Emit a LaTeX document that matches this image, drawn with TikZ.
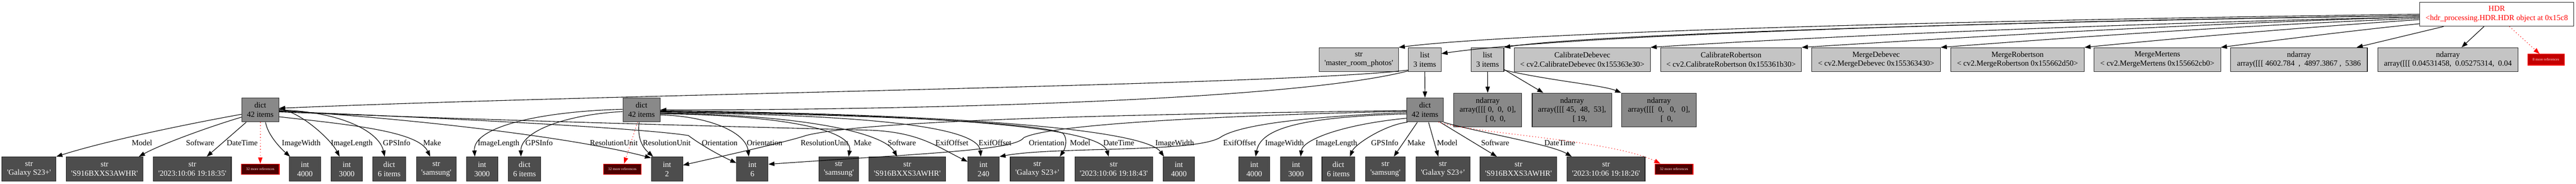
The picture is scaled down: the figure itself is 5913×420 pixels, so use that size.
\documentclass[tikz,border=0pt]{standalone}
\usepackage{fontspec}
\setmainfont{Liberation Serif}[Ligatures=TeXOff]
\usetikzlibrary{arrows.meta}
\definecolor{depthone}{RGB}{196,196,196}
\definecolor{depthtwo}{RGB}{137,137,137}
\definecolor{depththree}{RGB}{77,77,77}
\definecolor{refone}{RGB}{196,0,0}
\definecolor{refthree}{RGB}{77,0,0}
\tikzset{
  objbox/.style={draw=black!85, line width=0.65pt, inner sep=0pt, align=center,
    font=\fontsize{8.95}{10.5}\selectfont},
  rootbox/.style={objbox, fill=white, text=red, minimum height=27.5pt},
  onebox/.style={objbox, fill=depthone, minimum height=27.5pt},
  twobox/.style={objbox, fill=depthtwo, minimum height=27.5pt},
  threebox/.style={objbox, fill=depththree, text=white, minimum height=28pt},
  refbox/.style={draw=red, line width=0.65pt, inner sep=0pt, text=white!90!red,
    font=\fontsize{4.25}{5}\selectfont},
  link/.style={line width=0.65pt, -{Triangle[length=7pt,width=5pt]}},
  refedge/.style={red, line width=0.65pt, dash pattern=on 0.8pt off 2.6pt,
    -{Triangle[length=7pt,width=5pt,fill=red]}},
  lbl/.style={anchor=base, inner sep=0pt, font=\fontsize{8.95}{10.5}\selectfont}
}
\begin{document}
\begin{tikzpicture}[x=0.5pt,y=-0.5pt]
\useasboundingbox (0,0) rectangle (5913,420);
% root
\node[rootbox, minimum width=177pt] (hdr) at (5731,32.5) {HDR\\<hdr\_processing.HDR.HDR object at 0x15c8};
\node[refbox, fill=refone, minimum width=42pt, minimum height=12.5pt] (moreroot) at (5844,136.5) {8 more references};
% depth 1
\node[onebox, minimum width=91pt] (mrp) at (3119,136.5) {str\\'master\_room\_photos'};
\node[onebox, minimum width=37.5pt] (lstA) at (3270.5,136.5) {list\\3 items};
\node[onebox, minimum width=37.5pt] (lstB) at (3414.5,136.5) {list\\3 items};
\node[onebox, minimum width=156pt] (calD) at (3632,136.5) {CalibrateDebevec\\< cv2.CalibrateDebevec 0x155363e30>};
\node[onebox, minimum width=161.5pt] (calR) at (3973.5,136.5) {CalibrateRobertson\\< cv2.CalibrateRobertson 0x155361b30>};
\node[onebox, minimum width=147.5pt] (mrgD) at (4306.5,136.5) {MergeDebevec\\< cv2.MergeDebevec 0x155363430>};
\node[onebox, minimum width=153pt] (mrgR) at (4631,136.5) {MergeRobertson\\< cv2.MergeRobertson 0x155662d50>};
\node[onebox, minimum width=145pt] (mrgM) at (4952,136.5) {MergeMertens\\< cv2.MergeMertens 0x155662cb0>};
\node[onebox, minimum width=157pt] (arrA) at (5277,136.5) {ndarray\\array([[[ 4602.784~ ,~ 4897.3867 ,~ 5386};
\node[onebox, minimum width=161pt] (arrB) at (5619,136.5) {ndarray\\array([[[ 0.04531458,~ 0.05275314,~ 0.04};
% depth 2
\node[twobox, minimum width=42.5pt] (dictA) at (597.5,251.5) {dict\\42 items};
\node[twobox, minimum width=42.5pt] (dictB) at (1472.5,251.5) {dict\\42 items};
\node[twobox, minimum width=42pt] (dictC) at (3271,251.5) {dict\\42 items};
\node[twobox, minimum width=78pt, minimum height=38.5pt] (ndA) at (3415,251.5) {ndarray\\array([[[ 0,~ 0,~ 0],\\\hspace*{2em}[ 0,~ 0,};
\node[twobox, minimum width=91.5pt, minimum height=38.5pt] (ndB) at (3608.5,251.5) {ndarray\\array([[[ 45,~ 48,~ 53],\\\hspace*{2em}[ 19,};
\node[twobox, minimum width=86pt, minimum height=38.5pt] (ndC) at (3808,251.5) {ndarray\\array([[[~ 0,~~ 0,~~ 0],\\\hspace*{2em}[~ 0,};
% depth 3
\node[threebox, minimum width=62pt] (galA) at (66.6,387) {str\\'Galaxy S23+'};
\node[threebox, minimum width=88pt] (swA) at (240,387) {str\\'S916BXXS3AWHR'};
\node[threebox, minimum width=89.5pt] (dtA) at (441.5,387) {str\\'2023:10:06 19:18:35'};
\node[refbox, fill=refthree, minimum width=43.5pt, minimum height=12pt] (moreA) at (597.5,387) {32 more references};
\node[threebox, minimum width=36pt] (iwA) at (700,387) {int\\4000};
\node[threebox, minimum width=36pt] (ilA) at (796,387) {int\\3000};
\node[threebox, minimum width=37.5pt] (gpsA) at (893.5,387) {dict\\6 items};
\node[threebox, minimum width=45.5pt] (mkA) at (1001.5,387) {str\\'samsung'};
\node[threebox, minimum width=36pt] (ilB) at (1106.5,387) {int\\3000};
\node[threebox, minimum width=37.5pt] (gpsB) at (1204,387) {dict\\6 items};
\node[refbox, fill=refthree, minimum width=43.5pt, minimum height=12pt] (moreB) at (1428.5,387) {32 more references};
\node[threebox, minimum width=36pt] (resu) at (1531,387) {int\\2};
\node[threebox, minimum width=36pt] (orient) at (1727,387) {int\\6};
\node[threebox, minimum width=45.5pt] (mkB) at (1925.5,387) {str\\'samsung'};
\node[threebox, minimum width=88pt] (swB) at (2082.5,387) {str\\'S916BXXS3AWHR'};
\node[threebox, minimum width=36pt] (exif) at (2257.5,387) {int\\240};
\node[threebox, minimum width=62pt] (galB) at (2381,387) {str\\'Galaxy S23+'};
\node[threebox, minimum width=89.5pt] (dtB) at (2556.5,387) {str\\'2023:10:06 19:18:43'};
\node[threebox, minimum width=36pt] (iwB) at (2706,387) {int\\4000};
\node[threebox, minimum width=36pt] (iwC) at (2879,387) {int\\4000};
\node[threebox, minimum width=36pt] (ilC) at (2975,387) {int\\3000};
\node[threebox, minimum width=37.5pt] (gpsC) at (3072,387) {dict\\6 items};
\node[threebox, minimum width=45.5pt] (mkC) at (3180,387) {str\\'samsung'};
\node[threebox, minimum width=62pt] (galC) at (3312,387) {str\\'Galaxy S23+'};
\node[threebox, minimum width=88pt] (swC) at (3485.5,387) {str\\'S916BXXS3AWHR'};
\node[threebox, minimum width=89.5pt] (dtC) at (3686.5,387) {str\\'2023:10:06 19:18:26'};
\node[refbox, fill=refthree, minimum width=43.5pt, minimum height=12pt] (moreC) at (3842.5,387) {32 more references};
% root edges
\draw[link] (hdr.180) .. controls (4600,45) and (3500,72) .. (mrp.north east);
\draw[link] (hdr.181) .. controls (4600,48) and (3600,80) .. (lstA.20);
\draw[link] (hdr.181) .. controls (4600,50) and (3650,78) .. (lstB.north east);
\draw[link] (hdr.182) .. controls (4800,55) and (4100,88) .. (calD.north east);
\draw[link] (hdr.182) .. controls (5000,55) and (4400,92) .. (calR.north east);
\draw[link] (hdr.183) .. controls (5100,60) and (4700,90) .. (mrgD.north east);
\draw[link] (hdr.184) .. controls (5250,65) and (4950,92) .. (mrgR.north east);
\draw[link] (hdr.187) .. controls (5400,70) and (5200,95) .. (mrgM.north east);
\draw[link] (hdr.193) -- (arrA.12);
\draw[link] (hdr.224) -- (arrB.42);
\draw[refedge] (hdr.316) -- (moreroot.138);
% list edges
\draw[link] (lstA) -- (dictC);
\draw[link] (lstA.212) .. controls (2950,195) and (1400,215) .. (dictA.5);
\draw[link] (lstA.214) .. controls (2950,235) and (2000,252) .. (dictB.east);
\draw[link] (lstB) -- (ndA);
\draw[link] (lstB) -- (ndB);
\draw[link] (lstB.328) .. controls (3560,185) and (3680,195) .. (ndC.north west);
% first dict
\draw[link] (dictA.193) .. controls (450,280) and (250,320) .. (galA.north east) node[lbl] at (326,333) {Model};
\draw[link] (dictA.201) .. controls (480,290) and (370,330) .. (swA.20) node[lbl] at (459.5,333) {Software};
\draw[link] (dictA) -- (dtA) node[lbl] at (556,333) {DateTime};
\draw[refedge] (dictA) -- (moreA);
\draw[link] (dictA.293) .. controls (615,310) and (645,340) .. (iwA.140) node[lbl] at (691.5,333) {ImageWidth};
\draw[link] (dictA.3) .. controls (690,255) and (760,320) .. (ilA.120) node[lbl] at (807.5,333) {ImageLength};
\draw[link] (dictA.0) .. controls (780,255) and (870,300) .. (gpsA.110) node[lbl] at (910.5,333) {GPSInfo};
\draw[link] (dictA.340) .. controls (800,285) and (960,300) .. (mkA.116) node[lbl] at (992,333) {Make};
\draw[link] (dictA.358) .. controls (900,268) and (1300,310) .. (resu.145) node[lbl] at (1409,333) {ResolutionUnit};
\draw[link] (dictA.356) .. controls (900,265) and (1450,290) .. (1580,310) .. controls (1600,325) and (1640,350) .. (orient.159) node[lbl] at (1652,333) {Orientation};
\draw[link] (dictA.354) .. controls (1200,278) and (1700,290) .. (2000,298) .. controls (2110,303) and (2150,335) .. (exif.155) node[lbl] at (2185,333) {ExifOffset};
% second dict
\draw[refedge] (dictB) -- (moreB);
\draw[link] (dictB.259) .. controls (1462,320) and (1478,340) .. (resu.138) node[lbl] at (1530.5,333) {ResolutionUnit};
\draw[link] (dictB.345) .. controls (1620,265) and (1712,300) .. (orient.106) node[lbl] at (1755,333) {Orientation};
\draw[link] (dictB.185) .. controls (1300,262) and (1195,300) .. (gpsB.106) node[lbl] at (1237.5,333) {GPSInfo};
\draw[link] (dictB.178) .. controls (1240,255) and (1085,290) .. (ilB.120) node[lbl] at (1144.5,333) {ImageLength};
\draw[link] (dictB.348) .. controls (1750,262) and (1960,290) .. (mkB.52) node[lbl] at (1980,333) {Make};
\draw[link] (dictB.350) .. controls (1850,262) and (2030,305) .. (swB.129) node[lbl] at (2070,333) {Software};
\draw[link] (dictB.352) .. controls (1950,262) and (2245,285) .. (exif.102) node[lbl] at (2284,333) {ExifOffset};
\draw[link] (dictB.354) .. controls (2000,262) and (2380,280) .. (2440,305) .. controls (2452,318) and (2445,340) .. (galB.29) node[lbl] at (2479.5,333) {Model};
\draw[link] (dictB.356) .. controls (2150,262) and (2525,290) .. (dtB.112) node[lbl] at (2568,333) {DateTime};
\draw[link] (dictB.358) .. controls (2250,262) and (2630,300) .. (iwB.140) node[lbl] at (2696.5,333) {ImageWidth};
% third dict
\draw[link] (dictC.182) .. controls (2700,260) and (2000,272) .. (1850,310) .. controls (1815,322) and (1700,348) .. (resu.14) node[lbl] at (1892.5,333) {ResolutionUnit};
\draw[link] (dictC.184) .. controls (2900,262) and (2420,280) .. (2350,315) .. controls (2330,345) and (2100,352) .. (orient.17) node[lbl] at (2402.5,333) {Orientation};
\draw[link] (dictC.188) .. controls (3050,265) and (2850,280) .. (2800,315) .. controls (2740,350) and (2420,335) .. (exif.north east) node[lbl] at (2845.5,333) {ExifOffset};
\draw[link] (dictC.192) .. controls (3000,268) and (2895,290) .. (iwC.84) node[lbl] at (2948.5,333) {ImageWidth};
\draw[link] (dictC.204) .. controls (3080,285) and (2990,320) .. (ilC.70) node[lbl] at (3067.5,333) {ImageLength};
\draw[link] (dictC.215) .. controls (3180,285) and (3110,330) .. (gpsC.47) node[lbl] at (3178.5,333) {GPSInfo};
\draw[link] (dictC.238) -- (mkC.56) node[lbl] at (3251,333) {Make};
\draw[link] (dictC.286) -- (galC.110) node[lbl] at (3322,333) {Model};
\draw[link] (dictC.321) -- (swC.150) node[lbl] at (3432,333) {Software};
\draw[link] (dictC.south east) .. controls (3380,300) and (3560,330) .. (dtC.160) node[lbl] at (3580.5,333) {DateTime};
\draw[refedge] (dictC.318) .. controls (3380,305) and (3700,320) .. (moreC.158);
\end{tikzpicture}
\end{document}
